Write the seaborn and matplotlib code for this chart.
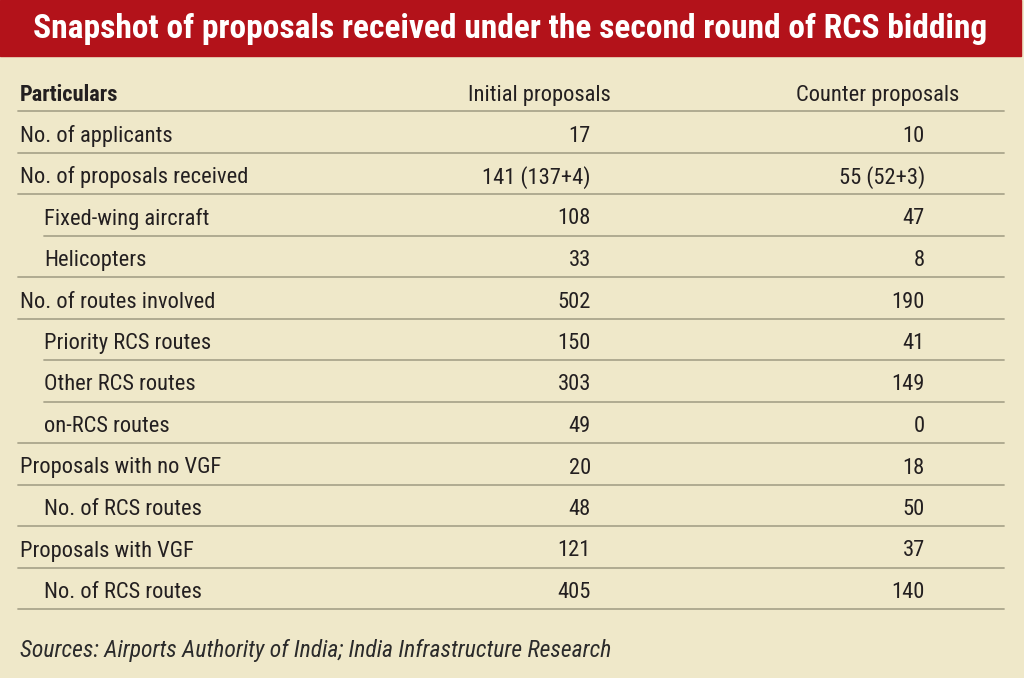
import matplotlib
matplotlib.use("Agg")
import matplotlib.pyplot as plt
from matplotlib import font_manager
import seaborn as sns
import pandas as pd

title = "Snapshot of proposals received under the second round of RCS bidding"
col_headers = ["Particulars", "Initial proposals", "Counter proposals"]
particulars = ["No. of applicants", "No. of proposals received", "Fixed-wing aircraft",
               "Helicopters", "No. of routes involved", "Priority RCS routes",
               "Other RCS routes", "on-RCS routes", "Proposals with no VGF",
               "No. of RCS routes", "Proposals with VGF", "No. of RCS routes"]
indented = [False, False, True, True, False, True, True, True, False, True, False, True]
initial = ["17", "141 (137+4)", "108", "33", "502", "150", "303", "49", "20", "48", "121", "405"]
counter = ["10", "55 (52+3)", "47", "8", "190", "41", "149", "0", "18", "50", "37", "140"]
source = "Sources: Airports Authority of India; India Infrastructure Research"

df = pd.DataFrame({"particulars": particulars, "indented": indented,
                   "initial": initial, "counter": counter})

sns.set_theme(style="white")
entries = font_manager.fontManager.ttflist
names = {f.name for f in entries}
italic_names = {f.name for f in entries if f.style == "italic"}
prefs = ["Roboto Condensed", "Liberation Sans Narrow", "Archivo Narrow", "Fira Sans Condensed",
         "PT Sans Narrow", "IBM Plex Sans Condensed", "Open Sans Condensed"]
fam = next((p for p in prefs if p in names and p in italic_names), None) or \
      next((p for p in prefs if p in names), "DejaVu Sans")
plt.rcParams["font.family"] = [fam, "DejaVu Sans"]

BG = "#EFE8C9"
RED = "#B3121A"
LINE = "#ABA68D"
TXT = "#231F20"

fig = plt.figure(figsize=(10.24, 6.78), dpi=100)
fig.patch.set_facecolor(BG)
ax = fig.add_axes([0, 0, 1, 1])
ax.set_xlim(0, 1024)
ax.set_ylim(678, 0)
ax.axis("off")
ax.set_facecolor(BG)
renderer = fig.canvas.get_renderer()


def fit(t, target_w):
    w = t.get_window_extent(renderer).width
    t.set_fontsize(t.get_fontsize() * target_w / w)
    return t.get_fontsize()

# title bar
ax.add_patch(plt.Rectangle((0, 0), 1021, 56, color=RED, zorder=1))
tt = ax.text(510, 29, title, color="white", fontsize=24, fontweight="bold",
             ha="center", va="center", zorder=2)
fit(tt, 958)

# body font size from a reference label width
probe = ax.text(0, -100, "No. of proposals received", fontsize=15)
fs = fit(probe, 228)
probe.remove()

x_left, x_indent, x_right = 18, 44, 1004
x_init, x_cnt = 591, 925

# header
y_head = 95
ax.text(20, y_head, col_headers[0], fontsize=fs, fontweight="bold", color=TXT, ha="left", va="center")
ax.text(611, y_head, col_headers[1], fontsize=fs, color=TXT, ha="right", va="center")
ax.text(959, y_head, col_headers[2], fontsize=fs, color=TXT, ha="right", va="center")
ax.plot([x_left, x_right], [111, 111], color=LINE, lw=1.3)

y0, dy = 136, 41.5
n = len(df)
for i, row in df.iterrows():
    y = y0 + i * dy
    xl = x_indent if row["indented"] else 20
    ax.text(xl, y, row["particulars"], fontsize=fs, color=TXT, ha="left", va="center")
    ax.text(x_init, y, row["initial"], fontsize=fs, color=TXT, ha="right", va="center")
    ax.text(x_cnt, y, row["counter"], fontsize=fs, color=TXT, ha="right", va="center")
    nxt_ind = df["indented"].iloc[i + 1] if i + 1 < n else False
    ls = x_indent if (row["indented"] and nxt_ind) else x_left
    yl = y + 16.5
    ax.plot([ls, x_right], [yl, yl], color=LINE, lw=1.3)

st = ax.text(20, 651, source, fontsize=fs, style="italic", color="#2b2b2b", ha="left", va="center")
fit(st, 591)

fig.savefig("out.png", dpi=100, facecolor=BG)
